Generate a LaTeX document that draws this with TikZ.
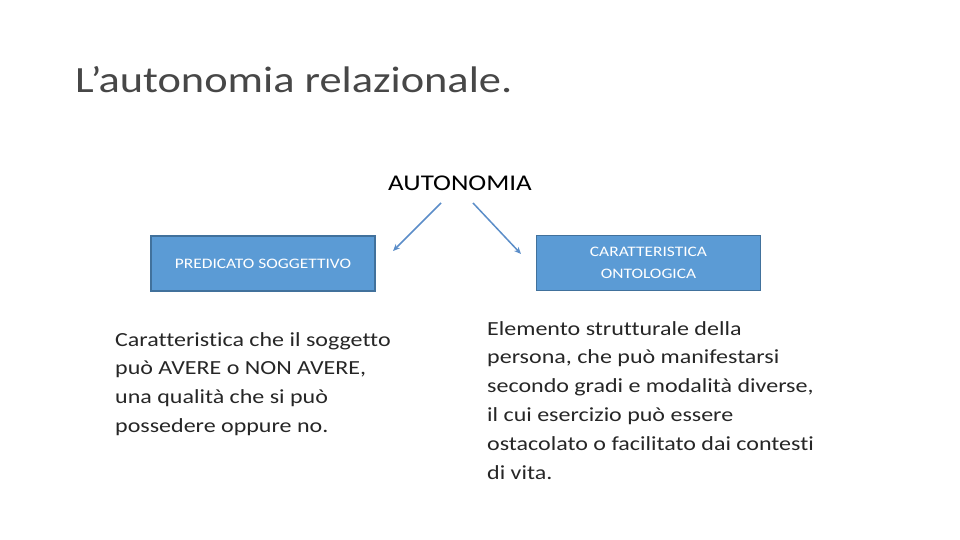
\documentclass[tikz,border=0pt]{standalone}
\usepackage{fontspec}
\setmainfont{Carlito}[FakeStretch=1.2,Ligatures=NoCommon]
\usetikzlibrary{positioning,arrows.meta}
\definecolor{boxfill}{HTML}{5B9BD5}
\definecolor{boxline}{HTML}{41719C}
\definecolor{arrowcol}{HTML}{5B8DC8}
\begin{document}
\begin{tikzpicture}[x=1pt,y=-1pt,
    blue box/.style={draw=boxline,line width=1.2pt,fill=boxfill,text=white,minimum width=224pt,minimum height=55pt,align=center,font=\fontsize{14.5}{22}\selectfont,inner sep=0pt},
    body text/.style={anchor=north west,align=left,inner sep=0pt,font=\fontsize{20}{28.8}\selectfont,text=black!85},
    branch/.style={draw=arrowcol,line width=1.5pt,-{Stealth[length=7pt,width=6pt]}}]
  \useasboundingbox (0,0) rectangle (960,540);
  \node(title)[anchor=west,inner sep=0pt,font=\fontsize{37}{40}\selectfont,text=black!72] at (75,80) {L’autonomia relazionale.};
  \node(root)[inner sep=0pt,font=\fontsize{22.5}{26}\selectfont] at (460,183) {AUTONOMIA};
  \node(left)[blue box] at (263,263.5) {PREDICATO SOGGETTIVO};
  \node(right)[blue box] at (648.5,263) {CARATTERISTICA\\ONTOLOGICA};
  \coordinate(l0) at (441,203);
  \coordinate(l1) at (393,251);
  \coordinate(r0) at (473,203);
  \coordinate(r1) at (521,254);
  \draw[branch](l0)to(l1);
  \draw[branch](r0)to(r1);
  \node(ltext)[body text] at (115,332) {Caratteristica che il soggetto\\può AVERE o NON AVERE,\\una qualità che si può\\possedere oppure no.};
  \node(rtext)[body text] at (487,321) {Elemento strutturale della\\persona, che può manifestarsi\\secondo gradi e modalità diverse,\\il cui esercizio può essere\\ostacolato o facilitato dai contesti\\di vita.};
\end{tikzpicture}
\end{document}
